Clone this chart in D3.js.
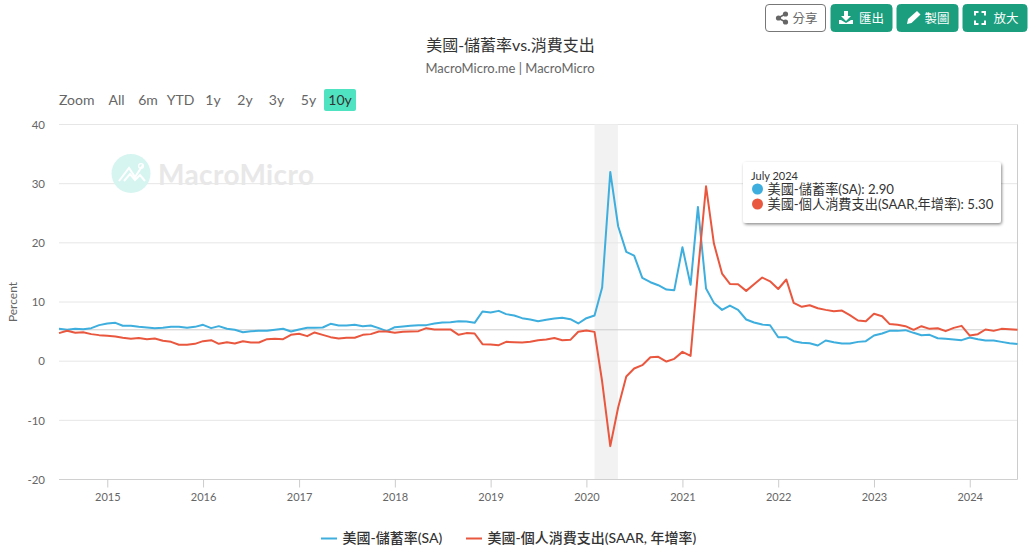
<!DOCTYPE html>
<html><head><meta charset="utf-8">
<script src="https://cdn.jsdelivr.net/npm/d3@7/dist/d3.min.js"></script>
<style>
html,body{margin:0;padding:0;background:#fff;overflow:hidden}
svg{display:block;font-family:Lato,"Noto Sans CJK TC",sans-serif}
</style></head><body><svg id="c" width="1033" height="560"></svg>
<script>
const startMonth = "2014-07";
const savingRate = [5.47,5.3,5.47,5.41,5.58,6.09,6.37,6.48,5.98,5.98,5.8,5.69,5.58,5.64,5.8,5.8,5.64,5.8,6.14,5.58,5.92,5.47,5.3,4.9,5.07,5.13,5.13,5.3,5.47,5.02,5.36,5.64,5.64,5.69,6.31,6.03,6.03,6.14,5.92,6.03,5.58,5.07,5.75,5.86,5.98,6.09,6.09,6.37,6.54,6.59,6.76,6.7,6.48,8.4,8.23,8.5,7.95,7.72,7.27,7.05,6.76,7.0,7.2,7.33,7.1,6.37,7.26,7.71,12.44,31.98,22.8,18.47,17.85,14.07,13.34,12.84,12.1,12.0,19.25,12.9,26.07,12.27,9.85,8.67,9.4,8.67,7.04,6.53,6.19,6.08,4.05,4.05,3.38,3.1,3.04,2.65,3.49,3.2,2.98,2.98,3.26,3.38,4.33,4.67,5.12,5.12,5.24,4.79,4.39,4.45,3.88,3.77,3.66,3.55,4.0,3.72,3.49,3.49,3.26,3.04,2.9];
const consumption = [4.74,5.13,4.8,4.9,4.57,4.4,4.29,4.17,3.95,3.78,3.9,3.72,3.84,3.44,3.27,2.77,2.77,2.93,3.38,3.55,2.93,3.2,3.0,3.38,3.16,3.16,3.72,3.78,3.72,4.45,4.62,4.23,4.85,4.45,4.06,3.84,3.95,3.95,4.45,4.57,5.02,5.02,4.8,4.96,5.02,5.07,5.58,5.36,5.36,5.36,4.45,4.74,4.68,2.88,2.82,2.71,3.27,3.2,3.16,3.27,3.55,3.67,3.9,3.55,3.6,4.96,5.18,4.95,-3.44,-14.36,-7.83,-2.6,-1.24,-0.68,0.67,0.73,-0.06,0.39,1.57,0.9,15,29.56,19.87,14.8,13.06,13,11.88,13,14.13,13.5,12.2,13.8,9.85,9.18,9.46,8.95,8.67,8.45,8.56,7.77,6.87,6.76,8,7.6,6.3,6.14,5.91,5.29,5.91,5.46,5.57,5.07,5.63,5.97,4.33,4.56,5.35,5.12,5.46,5.4,5.3];
const yTicks = [-20,-10,0,10,20,30,40];
const xTickYears = [2015,2016,2017,2018,2019,2020,2021,2022,2023,2024];
const recession = ["2020-02-01","2020-04-30"];
const rangeButtons = ["All","6m","YTD","1y","2y","3y","5y","10y"];
const seriesNames = ["美國-儲蓄率(SA)","美國-個人消費支出(SAAR, 年增率)"];
const seriesColors = ["#3daedd","#e9573f"];
const tooltipDate = "July 2024";
const tooltipValues = ["2.90","5.30"];

const svg = d3.select("#c");
const parse = d3.utcParse("%Y-%m-%d");
const t0 = parse(startMonth+"-01");
const dates = savingRate.map((_,i)=>d3.utcMonth.offset(t0,i));
const x = d3.scaleUtc().domain([t0,dates[dates.length-1]]).range([59,1017.5]);
const y = d3.scaleLinear().domain([-20,40]).range([479.5,124.5]);

// gridlines
svg.append("g").selectAll("line").data(yTicks.filter(d=>d!==-20)).join("line")
  .attr("x1",59).attr("x2",1017.5).attr("y1",d=>y(d)).attr("y2",d=>y(d))
  .attr("stroke","#e6e6e6").attr("stroke-width",1);

// watermark
const wm = svg.append("g");
wm.append("circle").attr("cx",131).attr("cy",173.5).attr("r",19.5).attr("fill","#d6f5f0");
wm.append("path").attr("d","M119 181 L129 168 L135 177 L143 165 M124 181 L130 174 L135 180 L140 175 L145 181")
  .attr("fill","none").attr("stroke","#fff").attr("stroke-width",2);
wm.append("circle").attr("cx",141).attr("cy",166).attr("r",2.4).attr("fill","none").attr("stroke","#fff").attr("stroke-width",1.3);
wm.append("text").attr("x",158).attr("y",184.5).attr("font-size",28).attr("font-weight",700)
  .attr("font-family","Lato,sans-serif").attr("fill","#e8e8e8").attr("textLength",156).text("MacroMicro");

// recession band
svg.append("rect").attr("x",x(parse(recession[0]))).attr("width",x(parse(recession[1]))-x(parse(recession[0])))
  .attr("y",124.5).attr("height",355).attr("fill","#f2f2f2");
svg.append("g").selectAll("line").data(yTicks.filter(d=>d>-20&&d<40)).join("line")
  .attr("x1",x(parse(recession[0]))).attr("x2",x(parse(recession[1]))).attr("y1",d=>y(d)).attr("y2",d=>y(d))
  .attr("stroke","#e6e6e6");

// crosshairs
svg.append("line").attr("x1",59).attr("x2",1017.5).attr("y1",y(+tooltipValues[1])).attr("y2",y(+tooltipValues[1]))
  .attr("stroke","#cccccc").attr("stroke-width",1);
svg.append("line").attr("x1",x(dates[120])).attr("x2",x(dates[120])).attr("y1",124.5).attr("y2",479.5)
  .attr("stroke","#cccccc").attr("stroke-width",1);

// x axis
const xAxis = d3.axisBottom(x).tickValues(xTickYears.map(v=>new Date(Date.UTC(v,0,1))))
  .tickFormat(d3.utcFormat("%Y")).tickSize(8).tickPadding(6);
const gx = svg.append("g").attr("transform","translate(0,479.5)").call(xAxis);
gx.select(".domain").attr("stroke","#d0d0d0").attr("d","M59,0H1017.5");
gx.selectAll(".tick line").attr("stroke","#cccccc");
gx.selectAll("text").attr("font-size",11).attr("fill","#666").attr("font-family","Lato,sans-serif");

// y axis
const yAxis = d3.axisLeft(y).tickValues(yTicks).tickFormat(d=>String(d)).tickSize(0).tickPadding(14);
const gy = svg.append("g").attr("transform","translate(59,0)").call(yAxis);
gy.select(".domain").remove();
gy.selectAll("text").attr("font-size",11.5).attr("fill","#666").attr("font-family","Lato,sans-serif");
svg.append("text").attr("transform","translate(17,302) rotate(-90)").attr("text-anchor","middle")
  .attr("font-size",12).attr("fill","#666").text("Percent");

// lines
const line = d3.line().x((d,i)=>x(dates[i])).y(d=>y(d));
[savingRate,consumption].forEach((s,k)=>{
  svg.append("path").datum(s).attr("d",line).attr("fill","none")
    .attr("stroke",seriesColors[k]).attr("stroke-width",2).attr("stroke-linejoin","round");
});

// title
svg.append("text").attr("x",510.5).attr("y",50.5).attr("text-anchor","middle").attr("font-size",16)
  .attr("fill","#333").attr("font-weight",400).text("美國-儲蓄率vs.消費支出");
svg.append("text").attr("x",510).attr("y",73).attr("text-anchor","middle").attr("font-size",13)
  .attr("fill","#666").text("MacroMicro.me | MacroMicro");

// range selector
svg.append("text").attr("x",59).attr("y",105).attr("font-size",14).attr("fill","#666").text("Zoom");
const btnX = [116.5,148,180.5,213,245,276.5,308.5,340];
svg.append("rect").attr("x",324).attr("y",89).attr("width",32).attr("height",22).attr("rx",2).attr("fill","#50e3c2");
svg.append("g").selectAll("text").data(rangeButtons).join("text")
  .attr("x",(d,i)=>btnX[i]).attr("y",105).attr("text-anchor","middle").attr("font-size",14)
  .attr("fill",(d,i)=>i===7?"#333":"#666").text(d=>d);

// top buttons
const topBtns = [
 {x:765.5,w:60,label:"分享",tx:805,fill:"#fff",stroke:"#777",col:"#666"},
 {x:831,w:61,label:"匯出",tx:871.5,fill:"#1b9e7e",stroke:"#1b9e7e",col:"#fff"},
 {x:897,w:61,label:"製圖",tx:937,fill:"#1b9e7e",stroke:"#1b9e7e",col:"#fff"},
 {x:963,w:64,label:"放大",tx:1006,fill:"#1b9e7e",stroke:"#1b9e7e",col:"#fff"}];
const tb = svg.append("g");
topBtns.forEach(b=>{
  tb.append("rect").attr("x",b.x).attr("y",4.5).attr("width",b.w).attr("height",27).attr("rx",3.5)
    .attr("fill",b.fill).attr("stroke",b.stroke);
  tb.append("text").attr("x",b.tx).attr("y",22.5).attr("text-anchor","middle").attr("font-size",12.5)
    .attr("fill",b.col).text(b.label);
});
// icons
tb.append("path").attr("d","M785.5 14 L778 18 L785.5 22").attr("fill","none").attr("stroke","#666").attr("stroke-width",1.5);
tb.selectAll(".s").data([[785.5,14],[778.5,18],[785.5,22]]).join("circle")
  .attr("cx",d=>d[0]).attr("cy",d=>d[1]).attr("r",2.6).attr("fill","#666");
tb.append("path").attr("d","M844 11 h4 v5 h3 l-5 5 l-5 -5 h3 z M841 20 l5 3 l5 -3 h2 v4 h-14 v-4 z").attr("fill","#fff");
tb.append("path").attr("d","M907 24 l1 -5 l9 -8 l3.5 3.5 l-9 8.5 z").attr("fill","#fff");
tb.append("path").attr("d","M975 15.5 v-3.5 h3.5 M981.5 12 h3.5 v3.5 M985 20.5 v3.5 h-3.5 M978.5 24 h-3.5 v-3.5")
  .attr("fill","none").attr("stroke","#fff").attr("stroke-width",2);

// tooltip
const tip = svg.append("g");
const defs = svg.append("defs");
const f = defs.append("filter").attr("id","ds").attr("x","-5%").attr("y","-15%").attr("width","110%").attr("height","130%");
f.append("feDropShadow").attr("dx",1).attr("dy",1.5).attr("stdDeviation",1.6).attr("flood-color","#000").attr("flood-opacity",0.45);
tip.append("rect").attr("x",743).attr("y",162).attr("width",258).attr("height",61).attr("rx",3)
  .attr("fill","#fff").attr("filter","url(#ds)");
tip.append("text").attr("x",751).attr("y",180).attr("font-size",11).attr("fill","#333").text(tooltipDate);
seriesNames.forEach((n,k)=>{
  const yy=[189,204][k];
  tip.append("circle").attr("cx",757.5).attr("cy",yy).attr("r",5.5).attr("fill",seriesColors[k]);
  tip.append("text").attr("x",767.5).attr("y",yy+5).attr("font-size",13.2).attr("fill","#333")
    .text(n.replace(", ",",")+": "+tooltipValues[k]);
});

// legend
const lg = svg.append("g");
[[321,342.5],[466,487.5]].forEach((p,k)=>{
  lg.append("line").attr("x1",p[0]).attr("x2",p[0]+16).attr("y1",538.5).attr("y2",538.5)
    .attr("stroke",seriesColors[k]).attr("stroke-width",2);
  lg.append("text").attr("x",p[1]).attr("y",543).attr("font-size",14).attr("font-weight",500)
    .attr("fill","#333").text(seriesNames[k]);
});
</script></body></html>
